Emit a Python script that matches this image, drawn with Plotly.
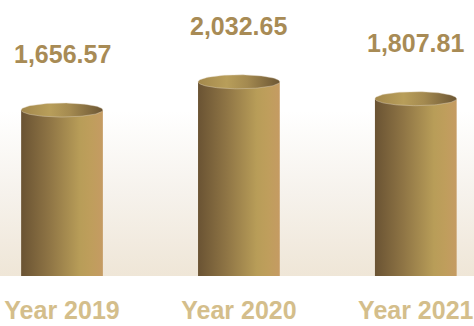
import numpy as np
import plotly.graph_objects as go

# Data
years = ["Year 2019", "Year 2020", "Year 2021"]
revenue = [1656.57, 2032.65, 1807.81]
value_labels = ["1,656.57", "2,032.65", "1,807.81"]

# Canvas / axis setup
W, H = 474, 326
M_BOTTOM = 50
X_RANGE = [-0.3505, 2.329]
Y_RANGE = [-555, 3123]
BAR_W = 0.462          # cylinder width in category units
CAP_PX = 7             # half-height of the cylinder top ellipse, in pixels
FADE_TOP_PX = 165      # height (px above the floor) where the backdrop fades to white

plot_h = H - M_BOTTOM
y_per_px = (Y_RANGE[1] - Y_RANGE[0]) / plot_h
cap_ry = CAP_PX * y_per_px

BODY_SCALE = [[0.0, "#6a5333"], [0.35, "#8f7545"], [0.72, "#b89d58"], [0.86, "#bf9e5c"], [1.0, "#c59b63"]]
CAP_SCALE = [[0.0, "#a3884c"], [0.35, "#b89e5a"], [0.6, "#a48a50"], [1.0, "#6c5634"]]

fig = go.Figure()

# Backdrop: warm beige floor fading to white
fig.add_trace(go.Scatter(
    x=[X_RANGE[0], X_RANGE[1], X_RANGE[1], X_RANGE[0], X_RANGE[0]],
    y=[Y_RANGE[0], Y_RANGE[0], Y_RANGE[1], Y_RANGE[1], Y_RANGE[0]],
    mode="lines", line=dict(width=0), fill="toself",
    fillgradient=dict(
        type="vertical",
        start=Y_RANGE[0],
        stop=Y_RANGE[0] + FADE_TOP_PX * y_per_px,
        colorscale=[[0.0, "#efe6d7"], [0.5, "#f6f2ec"], [1.0, "#ffffff"]],
    ),
    hoverinfo="skip", showlegend=False,
))

t = np.linspace(0, 2 * np.pi, 121)
for i, v in enumerate(revenue):
    x0, x1 = i - BAR_W / 2, i + BAR_W / 2
    # cylinder body
    fig.add_trace(go.Scatter(
        x=[x0, x1, x1, x0, x0],
        y=[Y_RANGE[0], Y_RANGE[0], v, v, Y_RANGE[0]],
        mode="lines", line=dict(width=0), fill="toself",
        fillgradient=dict(type="horizontal", colorscale=BODY_SCALE),
        hoverinfo="skip", showlegend=False,
    ))
    # cylinder top
    fig.add_trace(go.Scatter(
        x=i + BAR_W / 2 * np.cos(t),
        y=v + cap_ry * np.sin(t),
        mode="lines", line=dict(width=0.6, color="rgba(225,215,195,0.7)"), fill="toself",
        fillgradient=dict(type="horizontal", colorscale=CAP_SCALE),
        hoverinfo="skip", showlegend=False,
    ))
    fig.add_annotation(
        x=i, y=v, text=value_labels[i], showarrow=False,
        yanchor="middle", yshift=56,
        font=dict(family="Liberation Sans", size=25, color="#a88b55", weight="bold"),
    )

fig.update_layout(
    width=W, height=H,
    margin=dict(l=0, r=0, t=0, b=M_BOTTOM, autoexpand=False),
    paper_bgcolor="white", plot_bgcolor="white",
    xaxis=dict(
        range=X_RANGE, tickvals=[0, 1, 2], ticktext=years,
        showgrid=False, zeroline=False, showline=False, ticks="",
        ticklabelstandoff=17, automargin=False,
        tickfont=dict(family="Liberation Sans", size=25, color="#d4be8b", weight="bold"),
        fixedrange=True,
    ),
    yaxis=dict(range=Y_RANGE, visible=False, fixedrange=True, automargin=False),
)

fig.write_html("out.html")
